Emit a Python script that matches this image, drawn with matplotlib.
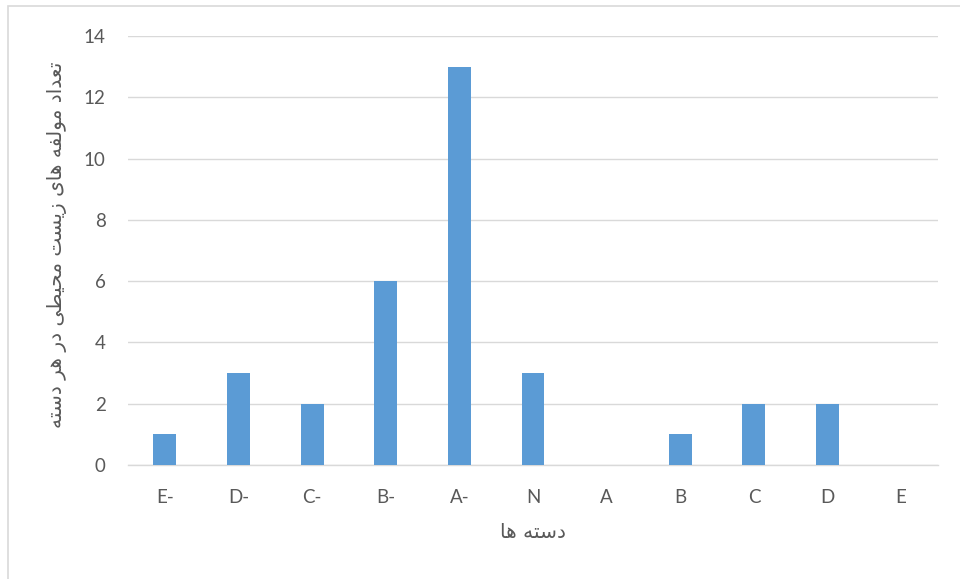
import matplotlib
matplotlib.use("Agg")
import matplotlib.pyplot as plt
from matplotlib.patches import Rectangle

# Data
categories = ["E-", "D-", "C-", "B-", "A-", "N", "A", "B", "C", "D", "E"]
counts = [1, 3, 2, 6, 13, 3, 0, 1, 2, 2, 0]
y_ticks = [0, 2, 4, 6, 8, 10, 12, 14]

y_title = "تعداد مولفه های زیست محیطی در هر دسته"
x_title = "دسته ها"

# Minimal Persian shaping: contextual presentation forms + visual reordering
# forms: (isolated, final, initial, medial)
FORMS = {
    "ا": ("\uFE8D", "\uFE8E", None, None),
    "د": ("\uFEA9", "\uFEAA", None, None),
    "ر": ("\uFEAD", "\uFEAE", None, None),
    "ز": ("\uFEAF", "\uFEB0", None, None),
    "و": ("\uFEED", "\uFEEE", None, None),
    "ت": ("\uFE95", "\uFE96", "\uFE97", "\uFE98"),
    "ع": ("\uFEC9", "\uFECA", "\uFECB", "\uFECC"),
    "ل": ("\uFEDD", "\uFEDE", "\uFEDF", "\uFEE0"),
    "ف": ("\uFED1", "\uFED2", "\uFED3", "\uFED4"),
    "ه": ("\uFEE9", "\uFEEA", "\uFEEB", "\uFEEC"),
    "م": ("\uFEE1", "\uFEE2", "\uFEE3", "\uFEE4"),
    "ح": ("\uFEA1", "\uFEA2", "\uFEA3", "\uFEA4"),
    "ط": ("\uFEC1", "\uFEC2", "\uFEC3", "\uFEC4"),
    "س": ("\uFEB1", "\uFEB2", "\uFEB3", "\uFEB4"),
    "ی": ("\uFBFC", "\uFBFD", "\uFBFE", "\uFBFF"),
}


def shape_fa(text):
    out = []
    n = len(text)
    for i, ch in enumerate(text):
        if ch not in FORMS:
            out.append(ch)
            continue
        prev = text[i - 1] if i > 0 else None
        nxt = text[i + 1] if i < n - 1 else None
        joins_prev = prev in FORMS and FORMS[prev][2] is not None
        joins_next = FORMS[ch][2] is not None and nxt in FORMS
        iso, fin, ini, med = FORMS[ch]
        if joins_prev and joins_next:
            out.append(med)
        elif joins_prev:
            out.append(fin)
        elif joins_next:
            out.append(ini)
        else:
            out.append(iso)
    return "".join(reversed(out))


TEXT_COLOR = "#595959"
GRID_COLOR = "#D9D9D9"
BAR_COLOR = "#5B9BD5"

fig = plt.figure(figsize=(9.6, 5.79), dpi=100)
fig.patch.set_facecolor("white")

# Chart frame
fig.patches.append(Rectangle((8 / 960, -0.05), 1.1, 1 - 6 / 579 + 0.05,
                             transform=fig.transFigure, fill=False,
                             edgecolor="#D9D9D9", linewidth=1.2))

ax = fig.add_axes([128 / 960, 1 - 465 / 579, 810 / 960, (465 - 36) / 579])
x = list(range(len(categories)))
ax.bar(x, counts, width=0.31, color=BAR_COLOR, zorder=3)

ax.set_xlim(-0.5, len(categories) - 0.5)
ax.set_ylim(0, 14)
ax.set_yticks(y_ticks)
ax.set_xticks(x)
ax.set_xticklabels(categories)

for s in ["top", "right", "left"]:
    ax.spines[s].set_visible(False)
ax.spines["bottom"].set_color(GRID_COLOR)
ax.spines["bottom"].set_linewidth(1.0)
ax.grid(axis="y", color=GRID_COLOR, linewidth=1.0, zorder=0)
ax.tick_params(axis="both", length=0, labelcolor=TEXT_COLOR, labelsize=13.5)
ax.tick_params(axis="x", pad=17)
ax.tick_params(axis="y", pad=16)
for lab in ax.get_xticklabels() + ax.get_yticklabels():
    lab.set_family("Lato")

fig.text(57 / 960, 1 - 245 / 579, shape_fa(y_title), rotation=90,
         ha="center", va="center", fontsize=14.5, color=TEXT_COLOR,
         family=["DejaVu Sans"])
fig.text(533 / 960, 1 - 532 / 579, shape_fa(x_title),
         ha="center", va="center", fontsize=14.5, color=TEXT_COLOR,
         family=["DejaVu Sans"])

fig.savefig("out.png", dpi=100)
